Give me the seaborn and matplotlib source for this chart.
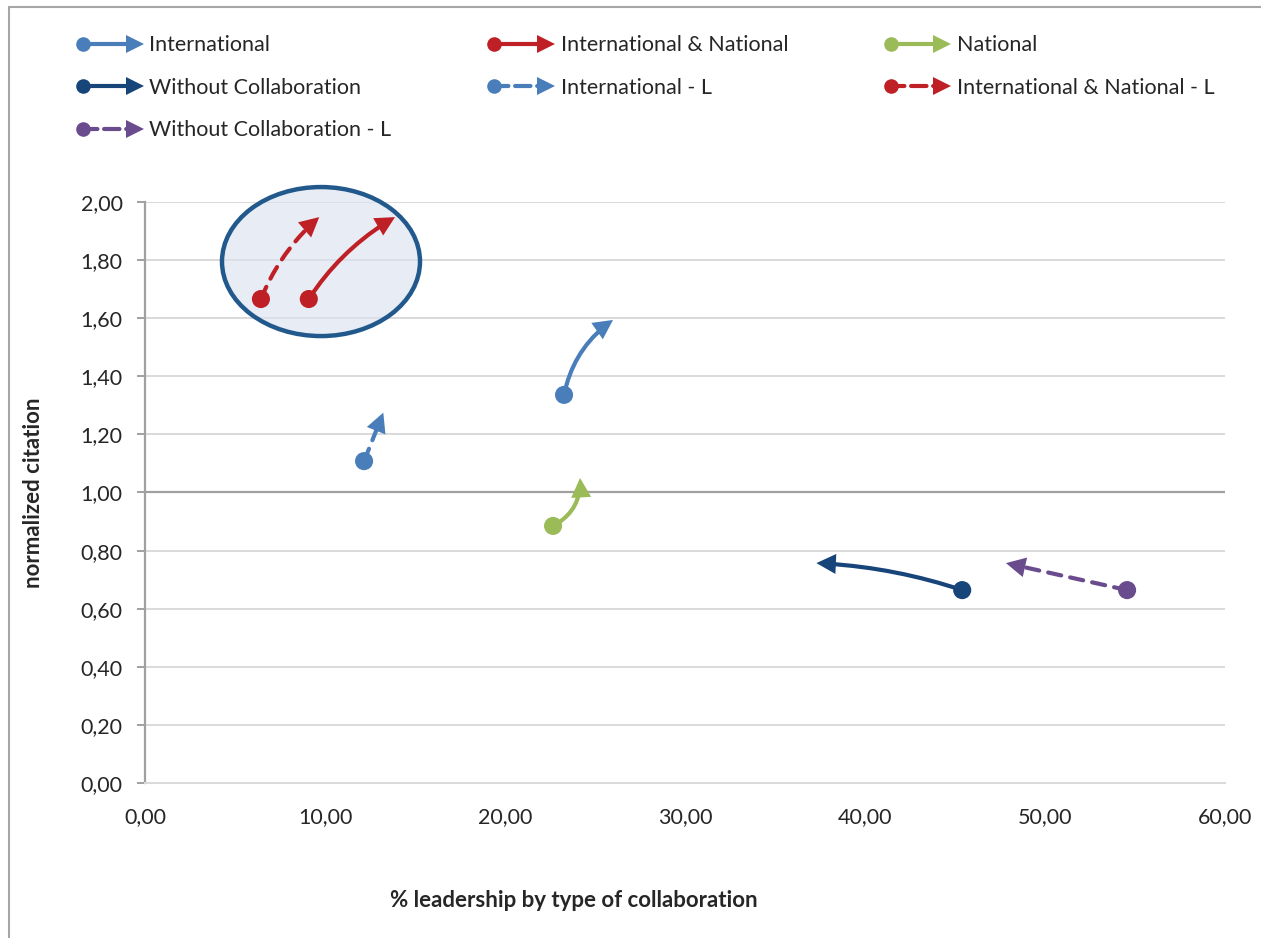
import numpy as np
import pandas as pd
import matplotlib
matplotlib.use("Agg")
import matplotlib.pyplot as plt
import seaborn as sns
from matplotlib.lines import Line2D
from matplotlib.patches import Ellipse
from matplotlib.legend_handler import HandlerBase

# series: start point (x0, y0) and arrow end (x1, y1)
series = ["International", "International & National", "National",
          "Without Collaboration", "International - L",
          "International & National - L", "Without Collaboration - L"]
x0 = [23.28, 9.10, 22.67, 45.40, 12.17, 6.44, 54.56]
y0 = [1.336, 1.666, 0.885, 0.664, 1.108, 1.666, 0.664]
x1 = [26.00, 13.89, 24.17, 37.30, 13.24, 9.68, 47.83]
y1 = [1.594, 1.948, 1.050, 0.757, 1.275, 1.948, 0.757]

colors = ["#4A7EBB", "#BE2026", "#9BBB59", "#17457A", "#4A7EBB", "#BE2026", "#6A4C8E"]
dashed = [False, False, False, False, True, True, True]
bend = [-0.2, -0.12, 0.32, 0.07, 0.0, -0.12, 0.0]

xticks = [0, 10, 20, 30, 40, 50, 60]
xtick_labels = ["0,00", "10,00", "20,00", "30,00", "40,00", "50,00", "60,00"]
yticks = [0.0, 0.2, 0.4, 0.6, 0.8, 1.0, 1.2, 1.4, 1.6, 1.8, 2.0]
ytick_labels = ["0,00", "0,20", "0,40", "0,60", "0,80", "1,00", "1,20", "1,40", "1,60", "1,80", "2,00"]

df = pd.DataFrame({"series": series, "x0": x0, "y0": y0, "x1": x1, "y1": y1})
palette = dict(zip(series, colors))

sns.set_theme(style="white")
plt.rcParams["font.family"] = ["Lato", "DejaVu Sans"]
text_color = "#262626"
dash_pattern = (0, (3.2, 2.2))
head_style = "-|>,head_length=0.7,head_width=0.36"

fig = plt.figure(figsize=(12.61, 9.38), dpi=100)
ax = fig.add_axes([145 / 1261, 1 - 783 / 938, 1080 / 1261, 581 / 938])

# gridlines and the darker 1,00 reference line
for v in yticks[1:]:
    ax.axhline(v, color="#d9d9d9", lw=1.4, zorder=0)
ax.axhline(1.0, color="#a0a0a0", lw=1.6, zorder=1)

# highlight ellipse round the two International & National series
sel = df[df["series"].str.startswith("International &")]
cx = np.mean(list(sel["x0"]) + list(sel["x1"]))
cy = np.mean(list(sel["y0"]) + list(sel["y1"])) - 0.012
ell = Ellipse((cx, cy), width=11.0, height=0.513, facecolor=(0.86, 0.89, 0.94, 0.65),
              edgecolor="#22598C", lw=3.2, zorder=2, clip_on=False)
ax.add_patch(ell)

# arrows from start to end: body (solid or dashed) plus a solid filled head
for i, row in df.iterrows():
    conn = f"arc3,rad={bend[i]}"
    ax.annotate("", xy=(row["x1"], row["y1"]), xytext=(row["x0"], row["y0"]),
                arrowprops=dict(arrowstyle="-", color=colors[i], lw=3.0,
                                linestyle=dash_pattern if dashed[i] else "-",
                                capstyle="round", shrinkA=0, shrinkB=8,
                                connectionstyle=conn),
                zorder=3)
    ax.annotate("", xy=(row["x1"], row["y1"]), xytext=(row["x0"], row["y0"]),
                arrowprops=dict(arrowstyle=head_style, mutation_scale=20,
                                facecolor=colors[i], edgecolor="none", lw=0,
                                shrinkA=0, shrinkB=0, connectionstyle=conn),
                zorder=3)

sns.scatterplot(data=df, x="x0", y="y0", hue="series", palette=palette, s=170,
                edgecolor="none", legend=False, ax=ax, zorder=4)

ax.set_xlim(0, 60)
ax.set_ylim(0, 2.0)
ax.set_xticks(xticks)
ax.set_xticklabels(xtick_labels)
ax.set_yticks(yticks)
ax.set_yticklabels(ytick_labels)
ax.tick_params(axis="x", length=0, pad=17, labelsize=15.5, labelcolor=text_color)
ax.tick_params(axis="y", left=True, length=6, width=1.4, color="#a0a0a0", pad=10,
               labelsize=15.5, labelcolor=text_color)

for s in ["top", "right"]:
    ax.spines[s].set_visible(False)
ax.spines["left"].set_color("#a0a0a0")
ax.spines["left"].set_linewidth(1.6)
ax.spines["bottom"].set_color("#d9d9d9")
ax.spines["bottom"].set_linewidth(1.4)

ax.set_xlabel("% leadership by type of collaboration", fontsize=16, fontweight="bold",
              color=text_color)
ax.xaxis.set_label_coords((574 - 145) / 1080, (783 - 890) / 581)
ax.set_ylabel("normalized citation", fontsize=16, fontweight="bold", color=text_color)
ax.yaxis.set_label_coords((44 - 145) / 1080, 0.5)


class ArrowHandler(HandlerBase):
    def create_artists(self, legend, orig_handle, xdescent, ydescent, width, height,
                       fontsize, trans):
        c = orig_handle.get_color()
        ls = orig_handle.get_linestyle()
        y = height / 2 - ydescent
        line = Line2D([-xdescent + 3, width - xdescent - 8], [y, y], color=c, lw=3.0,
                      linestyle=ls, solid_capstyle="butt", dash_capstyle="round",
                      transform=trans)
        dot = Line2D([-xdescent + 4], [y], marker="o", markersize=10.5, color=c,
                     markeredgewidth=0, transform=trans)
        tip = Line2D([width - xdescent - 6], [y], marker=">", markersize=13, color=c,
                     markeredgewidth=0, transform=trans)
        return [line, dot, tip]


handles = {s: Line2D([], [], color=c, linestyle=dash_pattern if d else "-")
           for s, c, d in zip(series, colors, dashed)}
order = ["International", "Without Collaboration", "Without Collaboration - L",
         "International & National", "International - L",
         "National", "International & National - L"]
fig.legend([handles[s] for s in order], order, handler_map={Line2D: ArrowHandler()},
           loc="upper left", bbox_to_anchor=(58 / 1261, 1 - 16 / 938), ncol=3,
           frameon=False, fontsize=15.5, handlelength=3.05, handletextpad=0.3,
           columnspacing=4.5, labelspacing=1.04, labelcolor=text_color)

# outer chart frame (cut by the picture edge on the right and bottom)
fig.add_artist(Line2D([9 / 1261, 1], [1 - 7 / 938, 1 - 7 / 938], color="#a6a6a6", lw=1.5))
fig.add_artist(Line2D([9 / 1261, 9 / 1261], [0, 1 - 7 / 938], color="#a6a6a6", lw=1.5))

fig.savefig("out.png", dpi=100)
plt.close(fig)
